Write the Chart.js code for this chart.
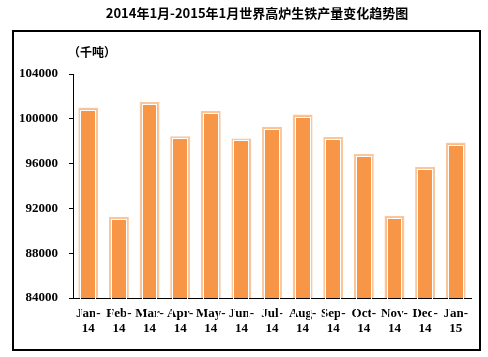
<!DOCTYPE html>
<html><head><meta charset="utf-8">
<script src="https://cdn.jsdelivr.net/npm/chart.js@4/dist/chart.umd.min.js"></script>
<style>html,body{margin:0;padding:0;background:#fff}#wrap{width:488px;height:357px}</style>
</head><body><div id="wrap"><canvas id="c" width="488" height="357"></canvas></div>
<script>
const titleText = '2014年1月-2015年1月世界高炉生铁产量变化趋势图';
const unitText = '（千吨）';
const categories = [['Jan-','14'],['Feb-','14'],['Mar-','14'],['Apr-','14'],['May-','14'],['Jun-','14'],['Jul-','14'],['Aug-','14'],['Sep-','14'],['Oct-','14'],['Nov-','14'],['Dec-','14'],['Jan-','15']];
const production = [101000, 91250, 101500, 98450, 100700, 98250, 99300, 100380, 98380, 96850, 91350, 95700, 97880];
const yTicks = [84000, 88000, 92000, 96000, 100000, 104000];

const decor = {
  id: 'decor',
  afterDatasetsDraw(chart) {
    const ctx = chart.ctx;
    const meta = chart.getDatasetMeta(0);
    ctx.save();
    ctx.strokeStyle = '#ffffff';
    ctx.lineWidth = 1;
    meta.data.forEach(b => {
      const p = b.getProps(['x','y','base','width'], true);
      const l = p.x - p.width/2, r = p.x + p.width/2;
      ctx.strokeRect(Math.round(l)+2.5, Math.round(p.y)+2.5, Math.round(r)-Math.round(l)-5, Math.round(p.base)-Math.round(p.y)-2.5);
    });
    ctx.restore();
  },
  afterDraw(chart) {
    const ctx = chart.ctx;
    ctx.save();
    ctx.strokeStyle = '#000';
    ctx.lineWidth = 2;
    ctx.strokeRect(13, 31, 467, 319);
    ctx.fillStyle = '#000';
    ctx.textBaseline = 'middle';
    ctx.textAlign = 'center';
    ctx.font = 'bold 13px "Noto Sans CJK SC"';
    ctx.fillText(titleText, 257, 13);
    ctx.textAlign = 'left';
    ctx.font = 'bold 12px "Noto Sans CJK SC"';
    ctx.fillText(unitText, 68, 52);
    ctx.restore();
  }
};

new Chart(document.getElementById('c'), {
  type: 'bar',
  data: {
    labels: categories,
    datasets: [{
      data: production,
      backgroundColor: '#f79646',
      borderColor: '#fac69c',
      borderWidth: 2,
      borderSkipped: 'start',
      barPercentage: 0.65,
      categoryPercentage: 1.0
    }]
  },
  options: {
    responsive: false,
    animation: false,
    devicePixelRatio: 1,
    layout: { padding: { left: 0, right: 17, top: 74, bottom: 0 } },
    plugins: { legend: { display: false }, tooltip: { enabled: false }, title: { display: false } },
    scales: {
      x: {
        grid: { display: false },
        border: { display: true, color: '#000', width: 1 },
        ticks: { color: '#000', font: { family: 'Liberation Serif', weight: 'bold', size: 13, lineHeight: 1.15 }, maxRotation: 0, autoSkip: false, padding: 0 },
        afterFit(s) { s.height = 59; }
      },
      y: {
        min: 84000, max: 104000,
        afterBuildTicks(s) { s.ticks = yTicks.map(v => ({ value: v })); },
        grid: { drawOnChartArea: false, drawTicks: true, tickLength: 4, color: '#000' },
        border: { display: true, color: '#000', width: 1 },
        ticks: { color: '#000', font: { family: 'Liberation Serif', weight: 'bold', size: 13 }, padding: 11, callback: v => String(v) },
        afterFit(s) { s.width = 73; }
      }
    }
  },
  plugins: [decor]
});
</script></body></html>
